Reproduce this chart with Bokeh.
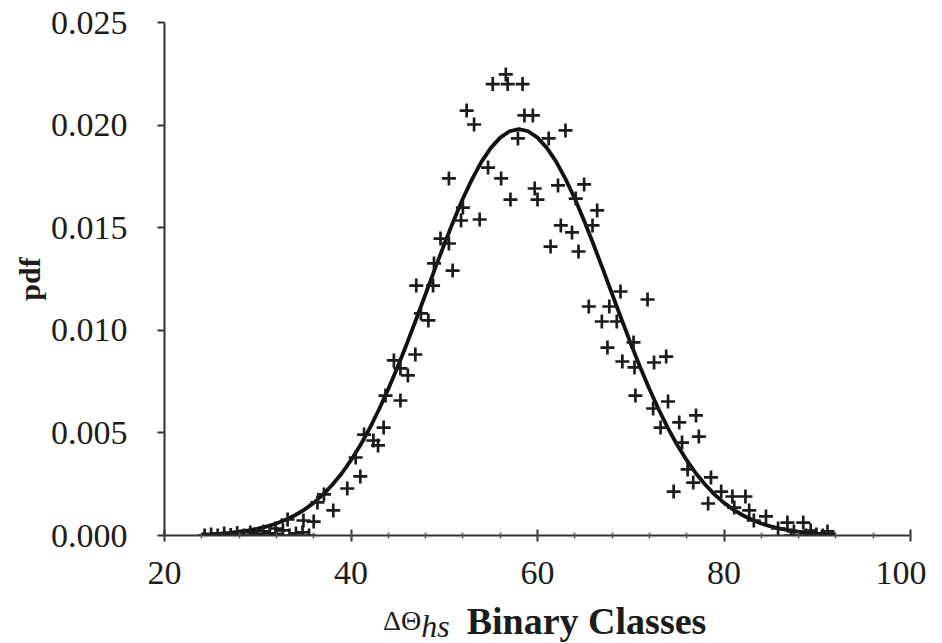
from bokeh.plotting import figure
from bokeh.models import Range1d, SingleIntervalTicker, FixedTicker, Div
from bokeh.layouts import column
from bokeh.embed import file_html
from bokeh.resources import INLINE

# ---- data ----
# fitted pdf curve
curve_x = [24, 25, 26, 27, 28, 29, 30, 31, 32, 33, 34, 35, 36, 37, 38, 39, 40, 41,
           42, 43, 44, 45, 46, 47, 48, 49, 50, 51, 52, 53, 54, 55, 56, 57, 58,
           59, 60, 61, 62, 63, 64, 65, 66, 67, 68, 69, 70, 71, 72, 73, 74, 75,
           76, 77, 78, 79, 80, 81, 82, 83, 84, 85, 86, 87, 88, 89, 90, 91, 92]
curve_y = [0.0000482, 0.0000683, 0.0000958, 0.000133, 0.000183, 0.000248, 0.000334,
           0.000445, 0.000586, 0.000765, 0.000987, 0.00126, 0.00159, 0.00199, 0.00247,
           0.00302, 0.00367, 0.00440, 0.00522, 0.00614, 0.00714, 0.00821, 0.00936,
           0.01055, 0.01177, 0.01299, 0.01419, 0.01534, 0.01642, 0.01738, 0.01822,
           0.01889, 0.01939, 0.01970, 0.01980,
           0.01970, 0.01939, 0.01889, 0.01822, 0.01738, 0.01642, 0.01534, 0.01419,
           0.01299, 0.01177, 0.01055, 0.00936, 0.00821, 0.00714, 0.00614, 0.00522,
           0.00440, 0.00367, 0.00302, 0.00247, 0.00199, 0.00159, 0.00126, 0.000987,
           0.000765, 0.000586, 0.000445, 0.000334, 0.000248, 0.000183, 0.000133,
           0.0000958, 0.0000683, 0.0000482]

# observed binary-class frequencies (+ markers)
obs_x = [24.3, 25.0, 25.7, 26.4, 27.1, 27.8, 28.5, 29.2, 29.9, 30.6, 31.3, 32.0, 32.7,
         33.4, 34.1, 34.8, 35.5,
         31.9, 33.2, 34.9, 36.0, 36.4, 37.1, 38.1, 39.6, 41.0, 40.5, 42.4, 42.9, 41.4,
         43.5, 43.7, 45.3, 46.1, 45.3, 44.6, 46.9, 48.3, 47.5, 47.0, 48.8, 48.9, 50.9,
         50.5, 49.6, 51.8, 52.0, 53.8, 50.5, 54.7, 56.1, 57.1, 53.2, 52.4, 55.2, 56.6,
         56.8, 58.4, 58.6, 59.5, 57.9, 61.2, 63.0, 59.7, 60.0, 62.2, 65.0, 64.1, 66.4,
         62.5, 63.7, 65.9, 61.4, 64.4, 68.9, 71.8, 65.5, 67.7, 66.9, 68.5, 70.3, 67.5,
         69.1, 70.4, 72.5, 73.8, 70.5, 74.0, 72.4, 77.0, 75.2, 73.2, 77.3, 75.5, 76.1,
         78.6, 74.6, 76.7, 79.7, 80.9, 82.3, 78.3, 82.7, 81.1, 84.5, 83.2, 86.8, 88.5,
         85.8, 87.5, 89.3, 91.1, 87.2, 88.8, 89.9, 90.6]
obs_y = [0.0, 0.00005, 0.0, 0.0001, 0.00003, 0.00012, 0.0, 0.00015, 0.00005, 0.0002,
         0.0001, 0.00008, 0.00025, 0.0, 0.0001, 0.00015, 0.0,
         0.00034, 0.00078, 0.00073, 0.00068, 0.00161, 0.0020, 0.00122, 0.00229, 0.00288,
         0.0038, 0.00463, 0.00439, 0.00492, 0.00526, 0.00682, 0.00658, 0.0078, 0.00814,
         0.00853, 0.00882, 0.01048, 0.01082, 0.01218, 0.01218, 0.01326, 0.01291, 0.01423,
         0.01447, 0.01535, 0.01598, 0.0154, 0.0174, 0.01793, 0.0174, 0.01637, 0.02003,
         0.02071, 0.0220, 0.02247, 0.0220, 0.0220, 0.02047, 0.02047, 0.01935, 0.01935,
         0.01974, 0.01691, 0.01637, 0.01706, 0.01711, 0.01642, 0.01584, 0.01511, 0.01477,
         0.01511, 0.01408, 0.01384, 0.01189, 0.0115, 0.01116, 0.01116, 0.01043, 0.01043,
         0.00941, 0.00916, 0.00848, 0.00819, 0.00843, 0.00872, 0.00682, 0.00653, 0.00619,
         0.00585, 0.00551, 0.00526, 0.00482, 0.00453, 0.00322, 0.00283, 0.00214, 0.00258,
         0.00214, 0.0019, 0.0019, 0.00156, 0.00122, 0.00136, 0.00093, 0.00073, 0.00063,
         0.00063, 0.00034, 0.0002, 0.00024, 0.0002, 0.0, 0.0, 0.00005, 0.0]

x_ticks = [20, 40, 60, 80, 100]
y_ticks = [0.000, 0.005, 0.010, 0.015, 0.020, 0.025]
y_tick_labels = ["0.000", "0.005", "0.010", "0.015", "0.020", "0.025"]
y_title = "pdf"
x_title_symbol = "ΔΘ"
x_title_sub = "hs"
x_title_text = "Binary Classes"

SERIF = "Liberation Serif"
INK = "#1c1c1c"

p = figure(width=926, height=600, output_backend="svg", toolbar_location=None,
           x_range=Range1d(x_ticks[0], x_ticks[-1]), y_range=Range1d(y_ticks[0], y_ticks[-1]),
           min_border_left=164, min_border_right=16, min_border_top=22,
           min_border_bottom=65)
p.outline_line_color = None
p.xgrid.visible = False
p.ygrid.visible = False
p.background_fill_color = "white"
p.border_fill_color = "white"

p.line(curve_x, curve_y, line_width=3.8, line_color="#111111")
p.scatter(obs_x, obs_y, marker="cross", size=14, line_width=2.7, line_color=INK)

# x axis
xa = p.xaxis[0]
xa.ticker = SingleIntervalTicker(interval=20, num_minor_ticks=5)
xa.axis_line_color = "#333333"
xa.axis_line_width = 2
xa.major_tick_line_color = "#333333"
xa.major_tick_line_width = 2
xa.major_tick_in = 6
xa.major_tick_out = 6
xa.minor_tick_line_color = "#555555"
xa.minor_tick_line_width = 1.5
xa.minor_tick_in = 3
xa.minor_tick_out = 3
xa.major_label_text_font = SERIF
xa.major_label_text_font_size = "34px"
xa.major_label_text_color = INK
xa.major_label_standoff = 20

# y axis
ya = p.yaxis[0]
ya.ticker = FixedTicker(ticks=y_ticks)
ya.major_label_overrides = {t: s for t, s in zip(y_ticks, y_tick_labels)}
ya.axis_line_color = "#333333"
ya.axis_line_width = 2
ya.major_tick_line_color = "#333333"
ya.major_tick_line_width = 2
ya.major_tick_in = 0
ya.major_tick_out = 7
ya.minor_tick_line_color = None
ya.major_label_text_font = SERIF
ya.major_label_text_font_size = "34px"
ya.major_label_text_color = INK
ya.major_label_standoff = 30
ya.axis_label = y_title
ya.axis_label_text_font = SERIF
ya.axis_label_text_font_style = "bold"
ya.axis_label_text_font_size = "30px"
ya.axis_label_text_color = INK
ya.axis_label_standoff = 2

title_html = (
    '<div style="font-family:\'Liberation Serif\',serif;color:#1c1c1c;'
    'white-space:nowrap;line-height:1;padding-left:383px;padding-top:2px">'
    f'<span style="font-size:28px;position:relative;top:-4px">{x_title_symbol}</span>'
    f'<span style="font-size:32px;font-style:italic;position:relative;top:3px">{x_title_sub}</span>'
    f'<span style="font-size:38px;font-weight:bold;margin-left:17px">{x_title_text}</span>'
    '</div>'
)
title_div = Div(text=title_html, width=926, height=40, margin=(0, 0, 0, 0))

layout = column(p, title_div, spacing=0)
open("out.html", "w").write(file_html(layout, INLINE))
